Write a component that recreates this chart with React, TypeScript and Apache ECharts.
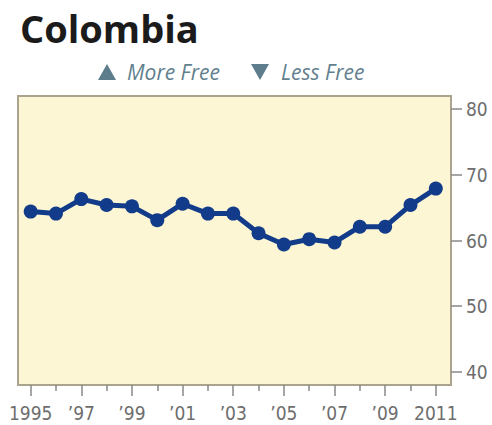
import React, { useEffect, useRef } from "react";
import * as echarts from "echarts";

const years = [1995, 1996, 1997, 1998, 1999, 2000, 2001, 2002, 2003, 2004, 2005, 2006, 2007, 2008, 2009, 2010, 2011];
const scores = [64.4, 64.1, 66.3, 65.4, 65.2, 63.1, 65.6, 64.1, 64.1, 61.1, 59.4, 60.2, 59.7, 62.1, 62.1, 65.4, 67.9];
const yTicks = [40, 50, 60, 70, 80];
const labeledYears = [1995, 1997, 1999, 2001, 2003, 2005, 2007, 2009, 2011];
const minorYears = [1996, 1998, 2000, 2002, 2004, 2006, 2008, 2010];
const titleText = "Colombia";
const legendUp = "More Free";
const legendDown = "Less Free";

const labelFont = "'Liberation Sans Narrow', 'DejaVu Sans Condensed', 'Noto Sans', sans-serif";

export default function App() {
  const ref = useRef<HTMLDivElement>(null);
  useEffect(() => {
    if (!ref.current) return;
    const chart = echarts.init(ref.current, null, { renderer: "svg" });
    const xMin = 1994.5;
    const xMax = 2011.6;
    chart.setOption({
      animation: false,
      graphic: [
        {
          type: "text",
          left: 20,
          top: 9,
          style: { text: titleText, fontSize: 38, fontWeight: "bold", fill: "#1b1b1b", fontFamily: "'Open Sans', sans-serif" },
        },
        {
          type: "polygon",
          shape: { points: [[107, 64], [98, 80], [116, 80]] },
          style: { fill: "#5d7c8c" },
        },
        {
          type: "text",
          x: 127,
          y: 72,
          style: { text: legendUp, fontSize: 21, fontStyle: "italic", fill: "#627f8e", fontFamily: "'Open Sans', sans-serif", verticalAlign: "middle" },
        },
        {
          type: "polygon",
          shape: { points: [[251, 64], [269, 64], [260, 80]] },
          style: { fill: "#5d7c8c" },
        },
        {
          type: "text",
          x: 281,
          y: 72,
          style: { text: legendDown, fontSize: 21, fontStyle: "italic", fill: "#627f8e", fontFamily: "'Open Sans', sans-serif", verticalAlign: "middle" },
        },
      ],
      grid: {
        left: 18,
        right: 41,
        top: 96,
        bottom: 40,
        show: true,
        backgroundColor: "#fdf6d4",
        borderColor: "#aaa48e",
        borderWidth: 2,
      },
      xAxis: [
        {
          type: "value",
          min: xMin,
          max: xMax,
          position: "bottom",
          splitLine: { show: false },
          axisLine: { show: false },
          axisTick: { show: true, length: 11, lineStyle: { color: "#888", width: 1.5 }, customValues: labeledYears },
          axisLabel: {
            customValues: labeledYears,
            fontSize: 19,
            color: "#6e6e6e",
            fontFamily: labelFont,
            margin: 18,
            formatter: (v: number) => (v === 1995 || v === 2011 ? String(v) : "\u2019" + String(v).slice(2)),
          },
        },
        {
          type: "value",
          min: xMin,
          max: xMax,
          position: "bottom",
          splitLine: { show: false },
          axisLine: { show: false },
          axisTick: { show: true, length: 6, lineStyle: { color: "#888", width: 1.5 }, customValues: minorYears },
          axisLabel: { show: false },
        },
      ],
      yAxis: {
        type: "value",
        position: "right",
        min: 38,
        max: 82,
        splitLine: { show: false },
        axisLine: { show: false },
        axisTick: { show: true, length: 11, lineStyle: { color: "#888", width: 1.5 }, customValues: yTicks },
        axisLabel: { customValues: yTicks, fontSize: 19, color: "#6e6e6e", fontFamily: labelFont, margin: 15 },
      },
      series: [
        {
          type: "line",
          xAxisIndex: 0,
          data: years.map((y, i) => [y, scores[i]]),
          symbol: "circle",
          symbolSize: 14,
          lineStyle: { color: "#123c8a", width: 5 },
          itemStyle: { color: "#123c8a" },
        },
      ],
    });
    return () => chart.dispose();
  }, []);
  return <div ref={ref} style={{ width: 492, height: 425, position: "absolute", left: 0, top: 0 }} />;
}
